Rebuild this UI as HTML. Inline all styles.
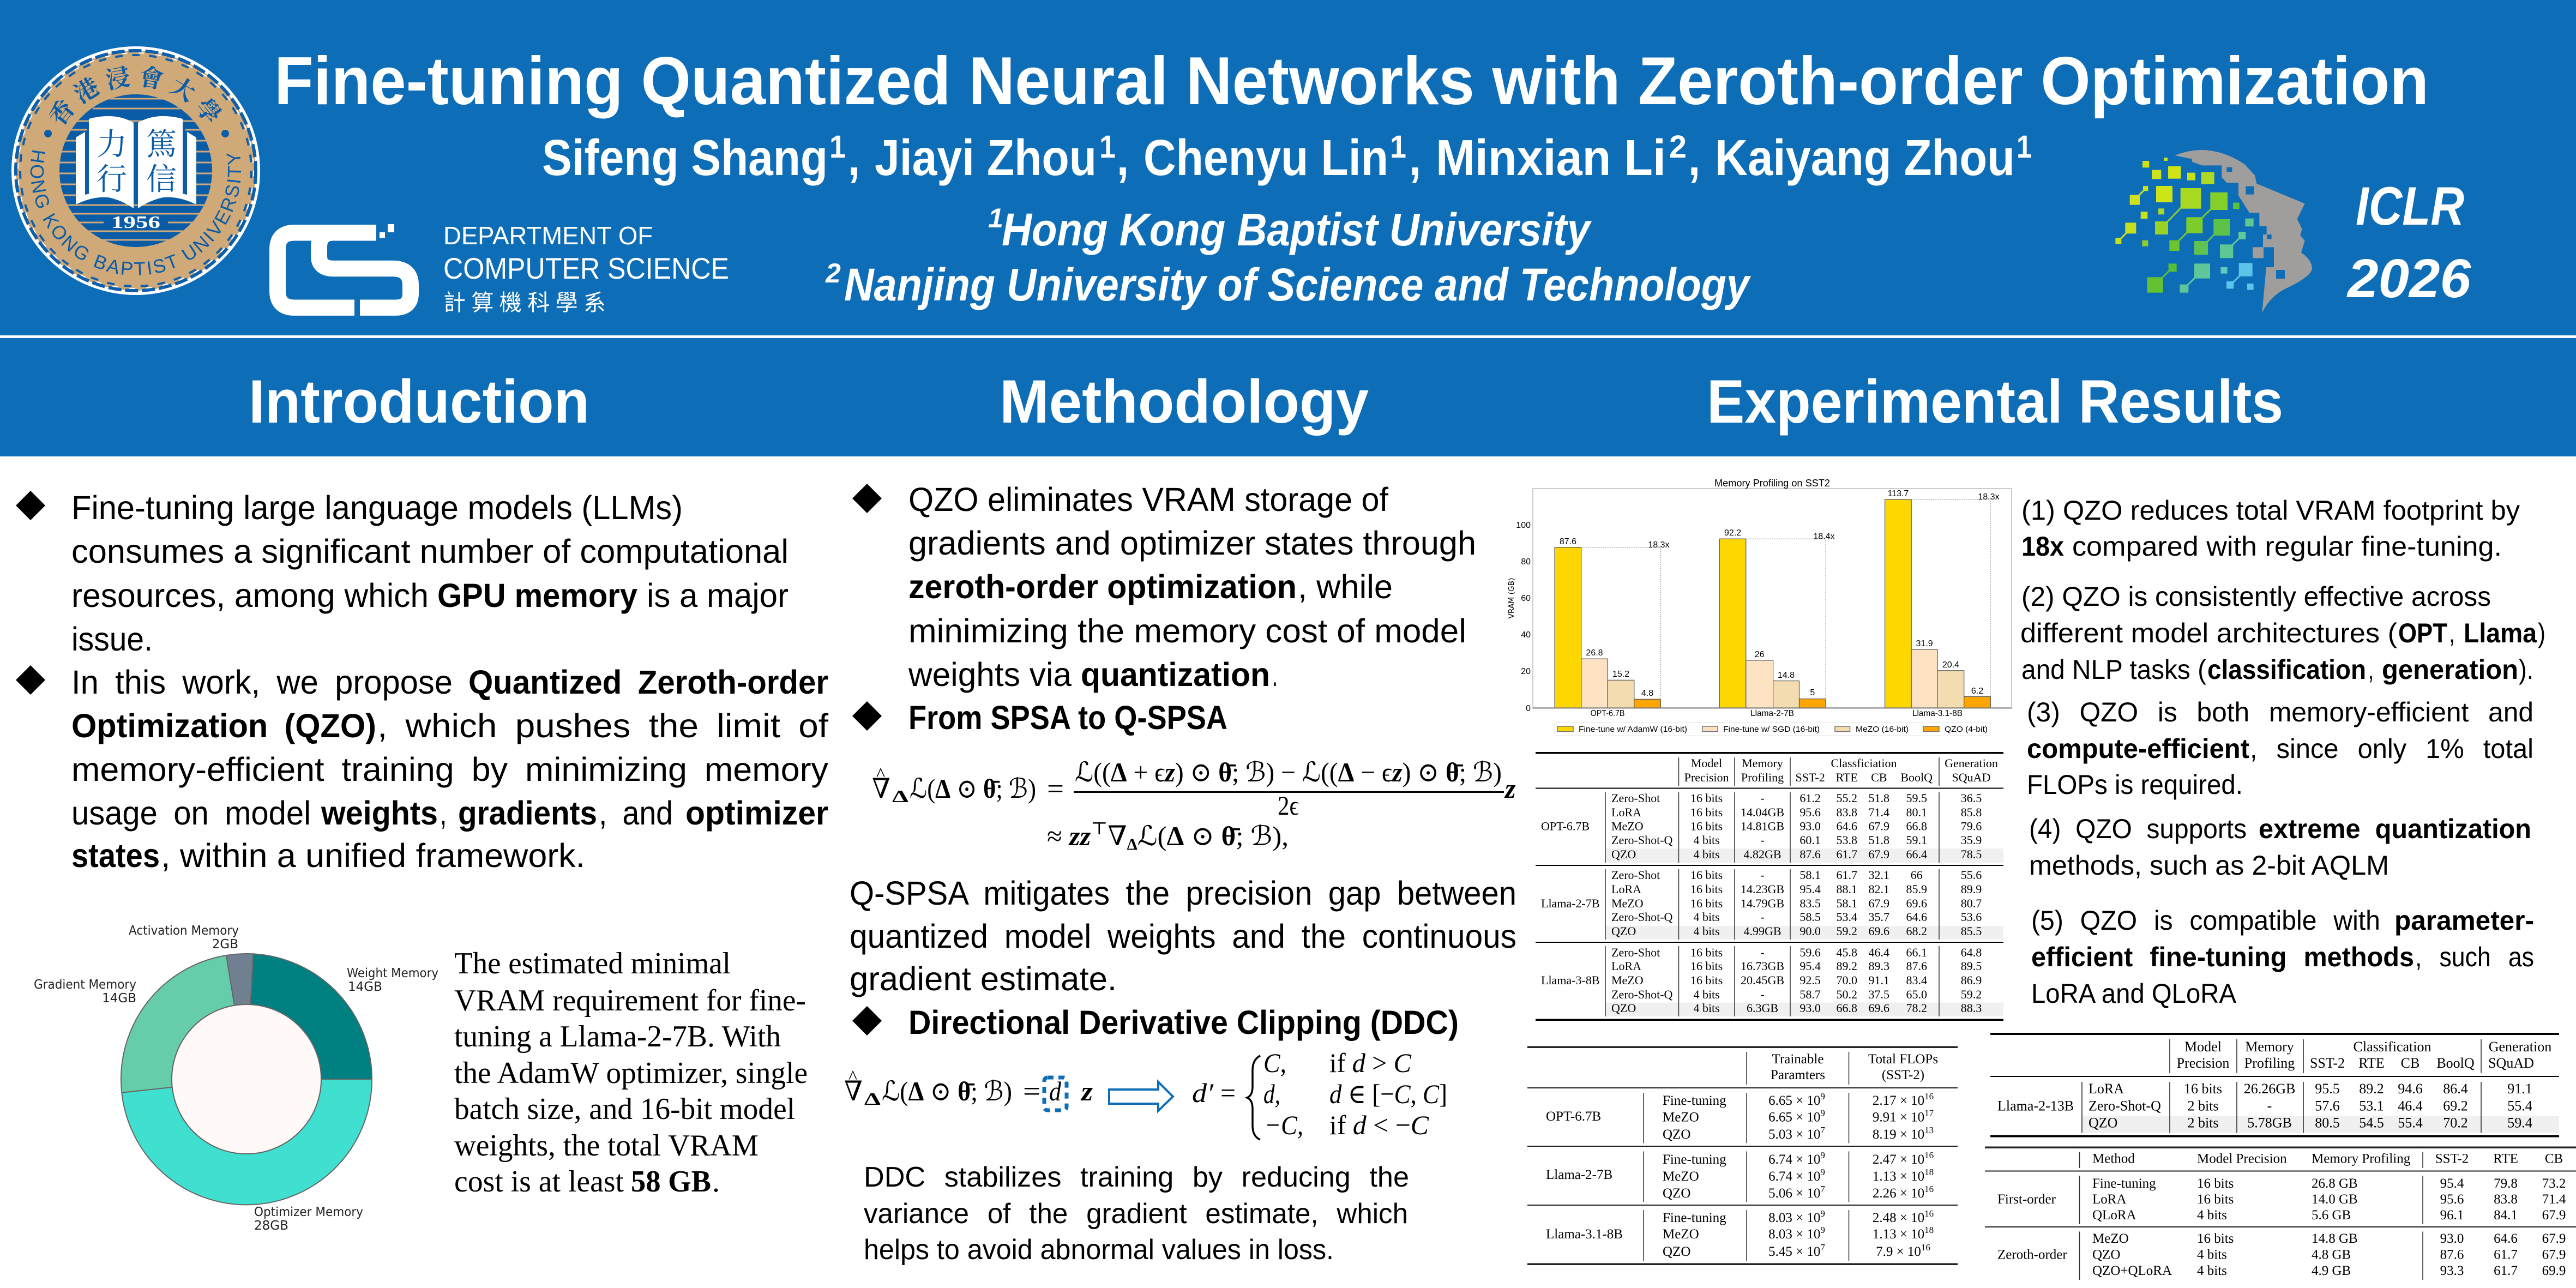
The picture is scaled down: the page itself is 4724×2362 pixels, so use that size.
<!DOCTYPE html>
<html lang="en"><head><meta charset="utf-8"><title>Fine-tuning Quantized Neural Networks with Zeroth-order Optimization</title>
<style>
html,body{margin:0;padding:0;background:#fff}
svg{display:block}
text{font-family:"Liberation Sans","Noto Sans CJK TC",sans-serif;fill:#000;white-space:pre}
.w{fill:#fff}
.b{font-weight:700}
.i{font-style:italic}
.se,.se text{font-family:"Liberation Serif","DejaVu Serif","Noto Serif CJK TC",serif}
.c{text-anchor:middle}
.r{text-anchor:end}
.j{word-spacing:14px}
.dj text{font-family:"DejaVu Sans",sans-serif;fill:#222}
.m{font-family:"Liberation Serif","DejaVu Serif",serif}
</style></head><body>
<svg xmlns="http://www.w3.org/2000/svg" width="4724" height="2362" viewBox="0 0 4724 2362">
<rect width="4724" height="2362" fill="#fff"/>
<rect width="4724" height="837" fill="#0e6db7"/>
<rect y="615" width="4724" height="5" fill="#fff"/>

<!-- HKBU seal -->
<g>
<circle cx="249" cy="313" r="228" fill="#fff"/>
<circle cx="249" cy="313" r="220" fill="#d0a978"/>
<circle cx="249" cy="313" r="220" fill="none" stroke="#0d5fab" stroke-width="6" stroke-dasharray="24 7"/>
<circle cx="249" cy="313" r="212" fill="none" stroke="#0d5fab" stroke-width="4" stroke-dasharray="14 17"/>
<circle cx="249" cy="313" r="216" fill="none" stroke="#fff" stroke-width="2" stroke-dasharray="10 21"/>
<clipPath id="cp"><circle cx="249" cy="313" r="140"/></clipPath>
<circle cx="249" cy="313" r="140" fill="#0b5ca6"/>
<g clip-path="url(#cp)" stroke="#d0a978" stroke-width="3">
<path d="M200 181H300M170 199H330M120 222H380M110 238H160M340 238H390M108 258H140M358 258H392M106 278H140M358 278H394M106 298H140M358 298H394M106 318H140M358 318H394M106 338H140M358 338H394M106 358H140M358 358H394M120 376H380M130 392H370M140 408H190M308 408H360M150 424H350M170 440H330M200 455H300"/>
</g>
<path d="M163 218Q210 205 245 225V382Q210 358 163 358Z" fill="#fff"/>
<path d="M139 252L156 242V357L139 375Z" fill="#fff"/>
<path d="M139 375Q200 345 245 382V372Q205 345 156 357Z" fill="#fff"/>
<path d="M335 218Q288 205 253 225V382Q288 358 335 358Z" fill="#fff"/>
<path d="M360 252L343 242V357L360 375Z" fill="#fff"/>
<path d="M360 375Q299 345 253 382V372Q293 345 343 357Z" fill="#fff"/>
<g class="se" font-size="56">
<text x="205" y="284" class="c" style="fill:#0b5ca6">力</text>
<text x="205" y="348" class="c" style="fill:#0b5ca6">行</text>
<text x="296" y="284" class="c" style="fill:#0b5ca6">篤</text>
<text x="296" y="348" class="c" style="fill:#0b5ca6">信</text>
</g>
<text class="se w b" x="204" y="418" font-size="32" textLength="90" lengthAdjust="spacingAndGlyphs">1956</text>
<path id="lowarc" d="M60 273A193 193 0 1 0 438 273" fill="none"/>
<path id="toparc" d="M113 234.5A157 157 0 0 1 385 234.5" fill="none"/>
<text font-size="35" style="fill:#0b5ca6"><textPath href="#lowarc" textLength="680" lengthAdjust="spacing">HONG KONG BAPTIST UNIVERSITY</textPath></text>
<text font-size="44" class="se" style="fill:#0b5ca6;font-family:'Noto Serif CJK TC','Noto Serif CJK SC',serif;font-weight:700"><textPath href="#toparc" textLength="325" lengthAdjust="spacing">香港浸會大學</textPath></text>
<circle cx="88" cy="245" r="7" fill="#0b5ca6"/><circle cx="413" cy="245" r="7" fill="#0b5ca6"/>
</g>

<!-- Header text -->
<text class="w b" x="503" y="191" font-size="124" textLength="3951" lengthAdjust="spacingAndGlyphs">Fine-tuning Quantized Neural Networks with Zeroth-order Optimization</text>
<g class="b" font-size="93" transform="translate(0 3)">
<text class="w b" x="994" y="318" textLength="524" lengthAdjust="spacingAndGlyphs">Sifeng Shang</text>
<text class="w" x="1521" y="286" font-size="58" textLength="30" lengthAdjust="spacingAndGlyphs">1</text>
<text class="w" x="1555" y="318" textLength="22" lengthAdjust="spacingAndGlyphs">,</text>
<text class="w" x="1604" y="318" textLength="407" lengthAdjust="spacingAndGlyphs">Jiayi Zhou</text>
<text class="w" x="2016" y="286" font-size="58" textLength="30" lengthAdjust="spacingAndGlyphs">1</text>
<text class="w" x="2048" y="318" textLength="22" lengthAdjust="spacingAndGlyphs">,</text>
<text class="w" x="2097" y="318" textLength="449" lengthAdjust="spacingAndGlyphs">Chenyu Lin</text>
<text class="w" x="2549" y="286" font-size="58" textLength="30" lengthAdjust="spacingAndGlyphs">1</text>
<text class="w" x="2584" y="318" textLength="22" lengthAdjust="spacingAndGlyphs">,</text>
<text class="w" x="2633" y="318" textLength="422" lengthAdjust="spacingAndGlyphs">Minxian Li</text>
<text class="w" x="3061" y="286" font-size="58" textLength="32" lengthAdjust="spacingAndGlyphs">2</text>
<text class="w" x="3096" y="318" textLength="22" lengthAdjust="spacingAndGlyphs">,</text>
<text class="w" x="3145" y="318" textLength="550" lengthAdjust="spacingAndGlyphs">Kaiyang Zhou</text>
<text class="w" x="3698" y="286" font-size="58" textLength="28" lengthAdjust="spacingAndGlyphs">1</text>
</g>
<text class="w b i" x="1812" y="417" font-size="50">1</text>
<text class="w b i" x="1837" y="450" font-size="84" textLength="1079" lengthAdjust="spacingAndGlyphs">Hong Kong Baptist University</text>
<text class="w b i" x="1514" y="518" font-size="50">2</text>
<text class="w b i" x="1548" y="551" font-size="84" textLength="1660" lengthAdjust="spacingAndGlyphs">Nanjing University of Science and Technology</text>

<!-- CS logo -->
<g transform="translate(0 2.500) scale(1 .982)">
<g fill="none" stroke="#fff" stroke-width="30">
<path d="M645 432H540Q509 432 509 463V541Q509 572 540 572H650"/>
<path d="M690 432H612Q585 432 585 459V476Q585 499 612 499H720Q753 499 753 530V545Q753 572 725 572H660"/>
</g>
<rect x="711" y="416" width="12" height="15" fill="#fff"/><rect x="696" y="431" width="10" height="11" fill="#fff"/>
</g>
<text class="w" x="813" y="448" font-size="46" textLength="384" lengthAdjust="spacingAndGlyphs">DEPARTMENT OF</text>
<text class="w" x="813" y="511" font-size="55" textLength="524" lengthAdjust="spacingAndGlyphs">COMPUTER SCIENCE</text>
<text class="w" x="813" y="569" font-size="41" textLength="298" lengthAdjust="spacing">計算機科學系</text>

<!-- ICLR logo -->
<g transform="translate(3840 260) scale(.33333)">
<path fill="#a09e9d" fill-rule="evenodd" d="M445 75Q520 45 600 45Q720 50 830 125L885 185L895 230L1160 340L1118 425L1145 480L1135 515L1160 545L1140 610Q1200 650 1200 700Q1190 745 1050 810Q970 850 925 940L948 690H990V580H930V510H950V465H910V390H855L795 295V225H730L703 195V130H595L540 110V95ZM730 140V165H760V140ZM835 245V290H880V245ZM952 510V535H977V510ZM1002 705V753H1050V705Z"/>
<rect x="873" y="580" width="60" height="60" fill="#a09e9d"/>
<g stroke-width="9" fill="none">
<path stroke="#c9e119" d="M285 257L222 320M205 475L135 545"/>
<path stroke="#8ccf2c" d="M530 310L370 475"/>
<path stroke="#72c92a" d="M690 325L552 460L440 570"/>
<path stroke="#5ec350" d="M700 470L590 585"/>
<path stroke="#5fc796" d="M815 515L730 600"/>
<path stroke="#57be3a" d="M432 692L335 787"/>
<path stroke="#5fc79a" d="M595 710L495 808"/>
<path stroke="#58c6ea" d="M835 705L750 788"/>
</g>
<rect x="267" y="105" width="37" height="37" fill="#cde216"/><rect x="385" y="87" width="20" height="18" fill="#cde216"/>
<rect x="318" y="155" width="52" height="50" fill="#cfe21e"/><rect x="408" y="135" width="70" height="68" fill="#cfe416"/>
<rect x="513" y="170" width="45" height="42" fill="#c6e01c"/><rect x="590" y="167" width="72" height="66" fill="#afd924"/>
<rect x="270" y="243" width="28" height="28" fill="#c9e119"/><rect x="197" y="292" width="55" height="55" fill="#cde21c"/>
<rect x="342" y="243" width="90" height="90" fill="#cde416"/><rect x="476" y="255" width="113" height="113" fill="#a9da22"/>
<rect x="640" y="278" width="95" height="97" fill="#84cf2a"/><rect x="765" y="335" width="35" height="35" fill="#5bc336"/>
<rect x="257" y="385" width="38" height="38" fill="#c9e119"/><rect x="354" y="367" width="33" height="33" fill="#a9d82a"/>
<rect x="172" y="445" width="60" height="60" fill="#c4e01e"/><rect x="118" y="528" width="33" height="33" fill="#c6e01c"/>
<rect x="265" y="542" width="33" height="33" fill="#8ecf2c"/><rect x="336" y="438" width="72" height="72" fill="#99d324"/>
<rect x="508" y="415" width="90" height="88" fill="#7ccd2c"/><rect x="658" y="426" width="90" height="90" fill="#5dc24a"/>
<rect x="832" y="422" width="46" height="44" fill="#5fc68e"/><rect x="415" y="542" width="55" height="58" fill="#6cc52c"/>
<rect x="552" y="546" width="75" height="75" fill="#5ec350"/><rect x="693" y="565" width="73" height="75" fill="#5fc796"/>
<rect x="795" y="495" width="40" height="42" fill="#5fc99a"/><rect x="292" y="745" width="88" height="85" fill="#62c232"/>
<rect x="410" y="670" width="45" height="45" fill="#57be3a"/><rect x="552" y="670" width="87" height="82" fill="#5fc79a"/>
<rect x="472" y="785" width="48" height="45" fill="#5cc69a"/><rect x="697" y="690" width="37" height="35" fill="#5fc6c0"/>
<rect x="797" y="667" width="75" height="73" fill="#5ac5e8"/><rect x="729" y="768" width="40" height="40" fill="#58c6ea"/>
<rect x="843" y="780" width="35" height="35" fill="#58c6ea"/>
</g>
<text class="w b i" x="4320" y="412" font-size="99" textLength="199" lengthAdjust="spacingAndGlyphs">ICLR</text>
<text class="w b i" x="4305" y="545" font-size="100" textLength="226" lengthAdjust="spacingAndGlyphs">2026</text>

<!-- Section headings -->
<text class="w b" x="456" y="775" font-size="112" textLength="625" lengthAdjust="spacingAndGlyphs">Introduction</text>
<text class="w b" x="1833" y="775" font-size="112" textLength="677" lengthAdjust="spacingAndGlyphs">Methodology</text>
<text class="w b" x="3130" y="775" font-size="112" textLength="1057" lengthAdjust="spacingAndGlyphs">Experimental Results</text>

<!-- Diamonds -->
<path d="M56 900L83 927L56 954L29 927ZM56 1220L83 1247L56 1274L29 1247ZM1590 887L1617 914L1590 941L1563 914ZM1590 1286L1617 1313L1590 1340L1563 1313ZM1590 1845L1617 1872L1590 1899L1563 1872Z"/>

<!-- Introduction -->
<g font-size="61">
<text x="131" y="952" textLength="1121" lengthAdjust="spacingAndGlyphs">Fine-tuning large language models (LLMs)</text>
<text x="131" y="1032" textLength="1315" lengthAdjust="spacingAndGlyphs">consumes a significant number of computational</text>
<text x="131" y="1113" textLength="655" lengthAdjust="spacingAndGlyphs">resources, among which</text>
<text class="b" x="802" y="1113" textLength="367" lengthAdjust="spacingAndGlyphs">GPU memory</text>
<text x="1186" y="1113" textLength="260" lengthAdjust="spacingAndGlyphs">is a major</text>
<text x="131" y="1193" textLength="149" lengthAdjust="spacingAndGlyphs">issue.</text>
<text class="j" x="131" y="1272" textLength="699" lengthAdjust="spacingAndGlyphs">In this work, we propose</text>
<text class="b j" x="859" y="1272" textLength="660" lengthAdjust="spacingAndGlyphs">Quantized Zeroth-order</text>
<text class="b j" x="131" y="1352" textLength="559" lengthAdjust="spacingAndGlyphs">Optimization (QZO)</text>
<text class="j" x="692" y="1352" textLength="827" lengthAdjust="spacingAndGlyphs">, which pushes the limit of</text>
<text class="j" x="131" y="1432" textLength="1388" lengthAdjust="spacingAndGlyphs">memory-efficient training by minimizing memory</text>
<text class="j" x="131" y="1512" textLength="439" lengthAdjust="spacingAndGlyphs">usage on model</text>
<text class="b" x="589" y="1512" textLength="214" lengthAdjust="spacingAndGlyphs">weights</text>
<text x="807" y="1512" textLength="12" lengthAdjust="spacingAndGlyphs">,</text>
<text class="b" x="840" y="1512" textLength="255" lengthAdjust="spacingAndGlyphs">gradients</text>
<text class="j" x="1098" y="1512" textLength="136" lengthAdjust="spacingAndGlyphs">, and</text>
<text class="b" x="1257" y="1512" textLength="262" lengthAdjust="spacingAndGlyphs">optimizer</text>
<text class="b" x="131" y="1590" textLength="162" lengthAdjust="spacingAndGlyphs">states</text>
<text x="295" y="1590" textLength="778" lengthAdjust="spacingAndGlyphs">, within a unified framework.</text>
</g>

<!-- Donut -->
<g stroke="#666" stroke-width="2" transform="translate(0 -9)">
<path fill="#008080" d="M682 1988A230 230 0 0 0 464.4 1758.3L459.4 1851.2A137 137 0 0 1 589 1988Z"/>
<path fill="#708090" d="M464.4 1758.3A230 230 0 0 0 414.8 1761L429.9 1852.8A137 137 0 0 1 459.4 1851.2Z"/>
<path fill="#66cdaa" d="M414.8 1761A230 230 0 0 0 223.3 2012.8L315.8 2002.8A137 137 0 0 1 429.9 1852.8Z"/>
<path fill="#40e0d0" d="M223.3 2012.8A230 230 0 0 0 682 1988L589 1988A137 137 0 0 1 315.8 2002.8Z"/>
<circle cx="452" cy="1988" r="137" fill="#fff9f8"/>
</g>
<g class="dj" font-size="23">
<text x="236" y="1714" textLength="202" lengthAdjust="spacingAndGlyphs">Activation Memory</text>
<text x="437" y="1739" class="r">2GB</text>
<text x="62" y="1813" textLength="188" lengthAdjust="spacingAndGlyphs">Gradient Memory</text>
<text x="250" y="1838" class="r">14GB</text>
<text x="636" y="1792" textLength="168" lengthAdjust="spacingAndGlyphs">Weight Memory</text>
<text x="638" y="1817">14GB</text>
<text x="466" y="2230" textLength="200" lengthAdjust="spacingAndGlyphs">Optimizer Memory</text>
<text x="466" y="2255">28GB</text>
</g>
<g class="se" font-size="56">
<text x="833" y="1785" textLength="507" lengthAdjust="spacingAndGlyphs">The estimated minimal</text>
<text x="833" y="1853" textLength="645" lengthAdjust="spacingAndGlyphs">VRAM requirement for fine-</text>
<text x="833" y="1919" textLength="599" lengthAdjust="spacingAndGlyphs">tuning a Llama-2-7B. With</text>
<text x="833" y="1986" textLength="648" lengthAdjust="spacingAndGlyphs">the AdamW optimizer, single</text>
<text x="833" y="2052" textLength="625" lengthAdjust="spacingAndGlyphs">batch size, and 16-bit model</text>
<text x="833" y="2119" textLength="558" lengthAdjust="spacingAndGlyphs">weights, the total VRAM</text>
<text x="833" y="2185" textLength="311" lengthAdjust="spacingAndGlyphs">cost is at least</text>
<text class="b" x="1157" y="2185" textLength="147" lengthAdjust="spacingAndGlyphs">58 GB</text>
<text x="1306" y="2185">.</text>
</g>

<!-- Methodology -->
<g font-size="61">
<text x="1666" y="937" textLength="880" lengthAdjust="spacingAndGlyphs">QZO eliminates VRAM storage of</text>
<text x="1666" y="1017" textLength="1041" lengthAdjust="spacingAndGlyphs">gradients and optimizer states through</text>
<text class="b" x="1666" y="1097" textLength="712" lengthAdjust="spacingAndGlyphs">zeroth-order optimization</text>
<text x="2380" y="1097" textLength="174" lengthAdjust="spacingAndGlyphs">, while</text>
<text x="1666" y="1178" textLength="1023" lengthAdjust="spacingAndGlyphs">minimizing the memory cost of model</text>
<text x="1666" y="1258" textLength="299" lengthAdjust="spacingAndGlyphs">weights via</text>
<text class="b" x="1982" y="1258" textLength="347" lengthAdjust="spacingAndGlyphs">quantization</text>
<text x="2333" y="1258" textLength="10" lengthAdjust="spacingAndGlyphs">.</text>
<text class="b" x="1666" y="1337" textLength="585" lengthAdjust="spacingAndGlyphs">From SPSA to Q-SPSA</text>
<text class="j" x="1558" y="1659" textLength="1223" lengthAdjust="spacingAndGlyphs">Q-SPSA mitigates the precision gap between</text>
<text class="j" x="1558" y="1738" textLength="1223" lengthAdjust="spacingAndGlyphs">quantized model weights and the continuous</text>
<text x="1558" y="1816" textLength="490" lengthAdjust="spacingAndGlyphs">gradient estimate.</text>
<text class="b" x="1666" y="1896" textLength="1009" lengthAdjust="spacingAndGlyphs">Directional Derivative Clipping (DDC)</text>
</g>
<g font-size="52">
<text class="j" x="1584" y="2176" textLength="1000" lengthAdjust="spacingAndGlyphs" style="word-spacing:20px">DDC stabilizes training by reducing the</text>
<text class="j" x="1584" y="2243" textLength="998" lengthAdjust="spacingAndGlyphs" style="word-spacing:20px">variance of the gradient estimate, which</text>
<text x="1584" y="2309" textLength="862" lengthAdjust="spacingAndGlyphs">helps to avoid abnormal values in loss.</text>
</g>

<!-- Equation 1 -->
<g class="se" font-size="50">
<text x="1599" y="1463" textLength="34" lengthAdjust="spacingAndGlyphs">∇</text>
<text x="1607" y="1431" font-size="34">^</text>
<text class="b" x="1636" y="1471" font-size="32" textLength="30" lengthAdjust="spacingAndGlyphs">Δ</text>
<text x="1668" y="1463" textLength="232" lengthAdjust="spacingAndGlyphs">ℒ(<tspan font-weight="700">Δ</tspan> ⊙ <tspan font-weight="700">θ̄</tspan>; ℬ)</text>
<text x="1920" y="1463" textLength="31" lengthAdjust="spacingAndGlyphs">=</text>
<text x="1971" y="1433" textLength="783" lengthAdjust="spacingAndGlyphs">ℒ((<tspan font-weight="700">Δ</tspan> + ϵ<tspan font-weight="700" font-style="italic">z</tspan>) ⊙ <tspan font-weight="700">θ̄</tspan>; ℬ) − ℒ((<tspan font-weight="700">Δ</tspan> − ϵ<tspan font-weight="700" font-style="italic">z</tspan>) ⊙ <tspan font-weight="700">θ̄</tspan>; ℬ)</text>
<rect x="1969" y="1451" width="789" height="3" fill="#000"/>
<text x="2343" y="1494" textLength="39" lengthAdjust="spacingAndGlyphs">2ϵ</text>
<text class="b i" x="2760" y="1463">z</text>
<text x="1920" y="1550" textLength="443" lengthAdjust="spacingAndGlyphs">≈ <tspan font-weight="700" font-style="italic">zz</tspan><tspan font-size="32" dy="-20">⊤</tspan><tspan dy="20">∇</tspan><tspan font-weight="700" font-size="30" dy="8">Δ</tspan><tspan dy="-8">ℒ(</tspan><tspan font-weight="700">Δ</tspan> ⊙ <tspan font-weight="700">θ̄</tspan>; ℬ),</text>
</g>

<!-- Equation 2 -->
<g transform="translate(0 5)">
<g class="se" font-size="50">
<text x="1548" y="2013" textLength="34" lengthAdjust="spacingAndGlyphs">∇</text>
<text x="1556" y="1981" font-size="34">^</text>
<text class="b" x="1585" y="2021" font-size="32" textLength="30" lengthAdjust="spacingAndGlyphs">Δ</text>
<text x="1617" y="2013" textLength="239" lengthAdjust="spacingAndGlyphs">ℒ(<tspan font-weight="700">Δ</tspan> ⊙ <tspan font-weight="700">θ̄</tspan>; ℬ)</text>
<text x="1876" y="2013" textLength="32" lengthAdjust="spacingAndGlyphs">=</text>
<text class="i" x="1924" y="2013" textLength="22" lengthAdjust="spacingAndGlyphs">d</text>
<text class="b i" x="1983" y="2013" textLength="21" lengthAdjust="spacingAndGlyphs">z</text>
<text class="i" x="2186" y="2016" textLength="39" lengthAdjust="spacingAndGlyphs">d′</text>
<text x="2238" y="2016" textLength="28" lengthAdjust="spacingAndGlyphs">=</text>
<text class="i" x="2317" y="1961" textLength="42" lengthAdjust="spacingAndGlyphs">C,</text>
<text x="2438" y="1961" textLength="150" lengthAdjust="spacingAndGlyphs">if <tspan font-style="italic">d</tspan> &gt; <tspan font-style="italic">C</tspan></text>
<text class="i" x="2317" y="2018" textLength="31" lengthAdjust="spacingAndGlyphs">d,</text>
<text x="2438" y="2018" textLength="216" lengthAdjust="spacingAndGlyphs"><tspan font-style="italic">d</tspan> ∈ [−<tspan font-style="italic">C</tspan>, <tspan font-style="italic">C</tspan>]</text>
<text class="i" x="2319" y="2075" textLength="71" lengthAdjust="spacingAndGlyphs">−C,</text>
<text x="2438" y="2075" textLength="182" lengthAdjust="spacingAndGlyphs">if <tspan font-style="italic">d</tspan> &lt; −<tspan font-style="italic">C</tspan></text>
</g>
<rect x="1915" y="1971" width="41" height="60" rx="6" fill="none" stroke="#0e6db7" stroke-width="7" stroke-dasharray="11 9"/>
<path d="M2034 1993H2124V1979L2151 2006L2124 2032V2019H2034Z" fill="#fff" stroke="#0e6db7" stroke-width="4"/>
<path d="M2311 1931Q2297 1938 2297 1958V1988Q2297 2004 2287 2008Q2297 2012 2297 2028V2059Q2297 2079 2311 2085" fill="none" stroke="#000" stroke-width="3.5"/>
</g>

<!-- Bar chart -->
<rect x="2811" y="896" width="878" height="402.400" fill="#fff" stroke="#bbb" stroke-width="1.500"/>
<g stroke="#555" stroke-width="1.200">
<g fill="#ffd700"><rect x="2851.100" y="1003.700" width="48.600" height="294.700"/><rect x="3153.300" y="988.200" width="48.500" height="310.200"/><rect x="3456.600" y="915.900" width="48.600" height="382.500"/></g>
<g fill="#fde2c4"><rect x="2899.700" y="1208.200" width="48.500" height="90.200"/><rect x="3201.800" y="1210.900" width="49.800" height="87.500"/><rect x="3505.200" y="1191.100" width="47.900" height="107.300"/></g>
<g fill="#f3dcb0"><rect x="2948.200" y="1247.300" width="48.600" height="51.100"/><rect x="3251.600" y="1248.600" width="47.900" height="49.800"/><rect x="3553.100" y="1229.800" width="48.600" height="68.600"/></g>
<g fill="#ffa500"><rect x="2996.800" y="1282.300" width="48.600" height="16.100"/><rect x="3299.500" y="1281.600" width="48.600" height="16.800"/><rect x="3601.700" y="1277.500" width="48.600" height="20.900"/></g>
</g>
<path d="M2899.700 1003.700H3045.400V1282.300M3201.800 988.200H3348.100V1281.600M3505.200 915.900H3650.300V1277.500" fill="none" stroke="#aaa" stroke-width="1.500" stroke-dasharray="2 2"/>
<path d="M2811 1298.400H3689" stroke="#777" stroke-width="2"/>
<text class="c" x="3250" y="892" font-size="18" textLength="212" lengthAdjust="spacingAndGlyphs">Memory Profiling on SST2</text>
<g font-size="16" style="fill:#111">
<text class="c" x="2875.400" y="998">87.6</text><text class="c" x="2924" y="1202">26.8</text><text class="c" x="2972.500" y="1241">15.2</text><text class="c" x="3021" y="1276">4.8</text>
<text class="c" x="3177.600" y="982">92.2</text><text class="c" x="3226.700" y="1205">26</text><text class="c" x="3275.500" y="1243">14.8</text><text class="c" x="3323.800" y="1275">5</text>
<text class="c" x="3480.900" y="910">113.7</text><text class="c" x="3529.100" y="1185">31.9</text><text class="c" x="3577.400" y="1224">20.4</text><text class="c" x="3626" y="1272">6.2</text>
<text class="c" x="3042" y="1004">18.3x</text><text class="c" x="3345" y="988.500">18.4x</text><text class="c" x="3647" y="916">18.3x</text>
<text class="r" x="2807" y="1304">0</text><text class="r" x="2807" y="1236">20</text><text class="r" x="2807" y="1169">40</text><text class="r" x="2807" y="1102">60</text><text class="r" x="2807" y="1035">80</text><text class="r" x="2807" y="968">100</text>
<text class="c" x="2948" y="1313" textLength="63" lengthAdjust="spacingAndGlyphs">OPT-6.7B</text><text class="c" x="3250" y="1313" textLength="80" lengthAdjust="spacingAndGlyphs">Llama-2-7B</text><text class="c" x="3553" y="1313" textLength="92" lengthAdjust="spacingAndGlyphs">Llama-3.1-8B</text>
</g>
<text class="c" transform="translate(2776 1097) rotate(-90)" font-size="13" style="font-family:'DejaVu Sans',sans-serif" textLength="75" lengthAdjust="spacingAndGlyphs">VRAM (GB)</text>
<rect x="2851" y="1325" width="799" height="24" rx="3" fill="#fff" stroke="#eee" stroke-width="1.500"/>
<g stroke="#777" stroke-width="1.500"><rect x="2856" y="1332" width="29" height="9.500" fill="#ffd700"/><rect x="3122" y="1332" width="28" height="9.500" fill="#fde2c4"/><rect x="3365" y="1332" width="27.500" height="9.500" fill="#f3dcb0"/><rect x="3527" y="1332" width="29" height="9.500" fill="#ffa500"/></g>
<g font-size="15">
<text x="2895" y="1342" textLength="199" lengthAdjust="spacingAndGlyphs">Fine-tune w/ AdamW (16-bit)</text>
<text x="3160" y="1342" textLength="177" lengthAdjust="spacingAndGlyphs">Fine-tune w/ SGD (16-bit)</text>
<text x="3403" y="1342" textLength="97" lengthAdjust="spacingAndGlyphs">MeZO (16-bit)</text>
<text x="3566" y="1342" textLength="79" lengthAdjust="spacingAndGlyphs">QZO (4-bit)</text>
</g>

<!-- Table 1 -->
<g fill="#f0f0f0"><rect x="2945" y="1556" width="729" height="26"/><rect x="2945" y="1698" width="729" height="25"/><rect x="2945" y="1838.500" width="729" height="25.500"/></g>
<g fill="#000"><rect x="2816" y="1379" width="858" height="3.500"/><rect x="2816" y="1444.500" width="858" height="2"/><rect x="2816" y="1586" width="858" height="2"/><rect x="2816" y="1727" width="858" height="2"/><rect x="2816" y="1868.500" width="858" height="3.500"/></g>
<path d="M3078.500 1389V1441M3181 1389V1441M3283 1389V1441M3556 1389V1441M2944 1453V1582M3078.500 1453V1582M3181 1453V1582M3283 1453V1582M3556 1453V1582M2944 1594V1723M3078.500 1594V1723M3181 1594V1723M3283 1594V1723M3556 1594V1723M2944 1735V1864M3078.500 1735V1864M3181 1735V1864M3283 1735V1864M3556 1735V1864" stroke="#333" stroke-width="1.500"/>
<g class="se" font-size="22">
<text class="c" y="1407"><tspan x="3129.600">Model</tspan><tspan x="3232">Memory</tspan><tspan x="3418">Classficiation</tspan><tspan x="3615">Generation</tspan></text>
<text class="c" y="1433"><tspan x="3129.600">Precision</tspan><tspan x="3232">Profiling</tspan><tspan x="3319.600">SST-2</tspan><tspan x="3386.700">RTE</tspan><tspan x="3445.800">CB</tspan><tspan x="3514.700">BoolQ</tspan><tspan x="3615">SQuAD</tspan></text>
<text x="2826" y="1522.500">OPT-6.7B</text><text x="2826" y="1664">Llama-2-7B</text><text x="2826" y="1805">Llama-3-8B</text>
<text x="2955" y="1471">Zero-Shot</text><text x="2955" y="1497">LoRA</text><text x="2955" y="1522.500">MeZO</text><text x="2955" y="1548">Zero-Shot-Q</text><text x="2955" y="1574">QZO</text>
<text x="2955" y="1612">Zero-Shot</text><text x="2955" y="1638">LoRA</text><text x="2955" y="1664">MeZO</text><text x="2955" y="1689">Zero-Shot-Q</text><text x="2955" y="1715">QZO</text>
<text x="2955" y="1754">Zero-Shot</text><text x="2955" y="1779">LoRA</text><text x="2955" y="1805">MeZO</text><text x="2955" y="1831">Zero-Shot-Q</text><text x="2955" y="1856">QZO</text>
<text class="c" y="1471"><tspan x="3129.600">16 bits</tspan><tspan x="3232">-</tspan><tspan x="3319.600">61.2</tspan><tspan x="3386.700">55.2</tspan><tspan x="3445.800">51.8</tspan><tspan x="3514.700">59.5</tspan><tspan x="3615">36.5</tspan></text>
<text class="c" y="1497"><tspan x="3129.600">16 bits</tspan><tspan x="3232">14.04GB</tspan><tspan x="3319.600">95.6</tspan><tspan x="3386.700">83.8</tspan><tspan x="3445.800">71.4</tspan><tspan x="3514.700">80.1</tspan><tspan x="3615">85.8</tspan></text>
<text class="c" y="1522.500"><tspan x="3129.600">16 bits</tspan><tspan x="3232">14.81GB</tspan><tspan x="3319.600">93.0</tspan><tspan x="3386.700">64.6</tspan><tspan x="3445.800">67.9</tspan><tspan x="3514.700">66.8</tspan><tspan x="3615">79.6</tspan></text>
<text class="c" y="1548"><tspan x="3129.600">4 bits</tspan><tspan x="3232">-</tspan><tspan x="3319.600">60.1</tspan><tspan x="3386.700">53.8</tspan><tspan x="3445.800">51.8</tspan><tspan x="3514.700">59.1</tspan><tspan x="3615">35.9</tspan></text>
<text class="c" y="1574"><tspan x="3129.600">4 bits</tspan><tspan x="3232">4.82GB</tspan><tspan x="3319.600">87.6</tspan><tspan x="3386.700">61.7</tspan><tspan x="3445.800">67.9</tspan><tspan x="3514.700">66.4</tspan><tspan x="3615">78.5</tspan></text>
<text class="c" y="1612"><tspan x="3129.600">16 bits</tspan><tspan x="3232">-</tspan><tspan x="3319.600">58.1</tspan><tspan x="3386.700">61.7</tspan><tspan x="3445.800">32.1</tspan><tspan x="3514.700">66</tspan><tspan x="3615">55.6</tspan></text>
<text class="c" y="1638"><tspan x="3129.600">16 bits</tspan><tspan x="3232">14.23GB</tspan><tspan x="3319.600">95.4</tspan><tspan x="3386.700">88.1</tspan><tspan x="3445.800">82.1</tspan><tspan x="3514.700">85.9</tspan><tspan x="3615">89.9</tspan></text>
<text class="c" y="1664"><tspan x="3129.600">16 bits</tspan><tspan x="3232">14.79GB</tspan><tspan x="3319.600">83.5</tspan><tspan x="3386.700">58.1</tspan><tspan x="3445.800">67.9</tspan><tspan x="3514.700">69.6</tspan><tspan x="3615">80.7</tspan></text>
<text class="c" y="1689"><tspan x="3129.600">4 bits</tspan><tspan x="3232">-</tspan><tspan x="3319.600">58.5</tspan><tspan x="3386.700">53.4</tspan><tspan x="3445.800">35.7</tspan><tspan x="3514.700">64.6</tspan><tspan x="3615">53.6</tspan></text>
<text class="c" y="1715"><tspan x="3129.600">4 bits</tspan><tspan x="3232">4.99GB</tspan><tspan x="3319.600">90.0</tspan><tspan x="3386.700">59.2</tspan><tspan x="3445.800">69.6</tspan><tspan x="3514.700">68.2</tspan><tspan x="3615">85.5</tspan></text>
<text class="c" y="1754"><tspan x="3129.600">16 bits</tspan><tspan x="3232">-</tspan><tspan x="3319.600">59.6</tspan><tspan x="3386.700">45.8</tspan><tspan x="3445.800">46.4</tspan><tspan x="3514.700">66.1</tspan><tspan x="3615">64.8</tspan></text>
<text class="c" y="1779"><tspan x="3129.600">16 bits</tspan><tspan x="3232">16.73GB</tspan><tspan x="3319.600">95.4</tspan><tspan x="3386.700">89.2</tspan><tspan x="3445.800">89.3</tspan><tspan x="3514.700">87.6</tspan><tspan x="3615">89.5</tspan></text>
<text class="c" y="1805"><tspan x="3129.600">16 bits</tspan><tspan x="3232">20.45GB</tspan><tspan x="3319.600">92.5</tspan><tspan x="3386.700">70.0</tspan><tspan x="3445.800">91.1</tspan><tspan x="3514.700">83.4</tspan><tspan x="3615">86.9</tspan></text>
<text class="c" y="1831"><tspan x="3129.600">4 bits</tspan><tspan x="3232">-</tspan><tspan x="3319.600">58.7</tspan><tspan x="3386.700">50.2</tspan><tspan x="3445.800">37.5</tspan><tspan x="3514.700">65.0</tspan><tspan x="3615">59.2</tspan></text>
<text class="c" y="1856"><tspan x="3129.600">4 bits</tspan><tspan x="3232">6.3GB</tspan><tspan x="3319.600">93.0</tspan><tspan x="3386.700">66.8</tspan><tspan x="3445.800">69.6</tspan><tspan x="3514.700">78.2</tspan><tspan x="3615">88.3</tspan></text>
</g>

<!-- Table 2 -->
<g fill="#222"><rect x="2801" y="1918.500" width="789" height="3.500"/><rect x="2801" y="1994" width="789" height="2"/><rect x="2801" y="2101" width="789" height="2"/><rect x="2801" y="2209" width="789" height="2"/><rect x="2801" y="2316.500" width="789" height="3.500"/></g>
<path d="M3203 1929V1989M3390.500 1929V1989M3014 2004V2096.500M3203 2004V2096.500M3390.500 2004V2096.500M3014 2111.500V2204M3203 2111.500V2204M3390.500 2111.500V2204M3014 2219V2312M3203 2219V2312M3390.500 2219V2312" stroke="#333" stroke-width="1.500"/>
<g class="se" font-size="25">
<text class="c" y="1950"><tspan x="3297">Trainable</tspan><tspan x="3490">Total FLOPs</tspan></text>
<text class="c" y="1979"><tspan x="3297">Paramters</tspan><tspan x="3490">(SST-2)</tspan></text>
<text x="2835" y="2055">OPT-6.7B</text><text x="2835" y="2162">Llama-2-7B</text><text x="2835" y="2271">Llama-3.1-8B</text>
<text x="3049" y="2026">Fine-tuning</text><text x="3049" y="2056.500">MeZO</text><text x="3049" y="2088">QZO</text>
<text x="3049" y="2134">Fine-tuning</text><text x="3049" y="2165">MeZO</text><text x="3049" y="2196">QZO</text>
<text x="3049" y="2241">Fine-tuning</text><text x="3049" y="2271">MeZO</text><text x="3049" y="2303">QZO</text>
<text class="c" x="3295" y="2026">6.65 × 10<tspan font-size="17" dy="-10">9</tspan></text><text class="c" x="3490" y="2026">2.17 × 10<tspan font-size="17" dy="-10">16</tspan></text>
<text class="c" x="3295" y="2056.500">6.65 × 10<tspan font-size="17" dy="-10">9</tspan></text><text class="c" x="3490" y="2056.500">9.91 × 10<tspan font-size="17" dy="-10">17</tspan></text>
<text class="c" x="3295" y="2088">5.03 × 10<tspan font-size="17" dy="-10">7</tspan></text><text class="c" x="3490" y="2088">8.19 × 10<tspan font-size="17" dy="-10">13</tspan></text>
<text class="c" x="3295" y="2134">6.74 × 10<tspan font-size="17" dy="-10">9</tspan></text><text class="c" x="3490" y="2134">2.47 × 10<tspan font-size="17" dy="-10">16</tspan></text>
<text class="c" x="3295" y="2165">6.74 × 10<tspan font-size="17" dy="-10">9</tspan></text><text class="c" x="3490" y="2165">1.13 × 10<tspan font-size="17" dy="-10">18</tspan></text>
<text class="c" x="3295" y="2196">5.06 × 10<tspan font-size="17" dy="-10">7</tspan></text><text class="c" x="3490" y="2196">2.26 × 10<tspan font-size="17" dy="-10">16</tspan></text>
<text class="c" x="3295" y="2241">8.03 × 10<tspan font-size="17" dy="-10">9</tspan></text><text class="c" x="3490" y="2241">2.48 × 10<tspan font-size="17" dy="-10">16</tspan></text>
<text class="c" x="3295" y="2271">8.03 × 10<tspan font-size="17" dy="-10">9</tspan></text><text class="c" x="3490" y="2271">1.13 × 10<tspan font-size="17" dy="-10">18</tspan></text>
<text class="c" x="3295" y="2303">5.45 × 10<tspan font-size="17" dy="-10">7</tspan></text><text class="c" x="3490" y="2303">7.9 × 10<tspan font-size="17" dy="-10">16</tspan></text>
</g>

<!-- Table 3 -->
<rect x="3818" y="2046" width="875" height="31.500" fill="#f0f0f0"/>
<g fill="#000"><rect x="3650" y="1894" width="1043" height="4"/><rect x="3650" y="1973" width="1043" height="2"/><rect x="3650" y="2081.500" width="1043" height="4"/></g>
<path d="M3979 1906V1968M4102 1906V1968M4224 1906V1968M4550 1906V1968M3818 1984V2077.500M3979 1984V2077.500M4102 1984V2077.500M4224 1984V2077.500M4550 1984V2077.500" stroke="#222" stroke-width="1.500"/>
<g class="se" font-size="26">
<text class="c" y="1928"><tspan x="4040">Model</tspan><tspan x="4162">Memory</tspan><tspan x="4387">Classification</tspan><tspan x="4621.500">Generation</tspan></text>
<text class="c" y="1958"><tspan x="4040">Precision</tspan><tspan x="4162">Profiling</tspan><tspan x="4268">SST-2</tspan><tspan x="4349">RTE</tspan><tspan x="4420">CB</tspan><tspan x="4503">BoolQ</tspan><tspan x="4605">SQuAD</tspan></text>
<text x="3663" y="2036.500">Llama-2-13B</text>
<text x="3830" y="2005">LoRA</text><text x="3830" y="2036.500">Zero-Shot-Q</text><text x="3830" y="2067.500">QZO</text>
<text class="c" y="2005"><tspan x="4040">16 bits</tspan><tspan x="4162">26.26GB</tspan><tspan x="4268">95.5</tspan><tspan x="4349">89.2</tspan><tspan x="4420">94.6</tspan><tspan x="4503">86.4</tspan><tspan x="4621">91.1</tspan></text>
<text class="c" y="2036.500"><tspan x="4040">2 bits</tspan><tspan x="4162">-</tspan><tspan x="4268">57.6</tspan><tspan x="4349">53.1</tspan><tspan x="4420">46.4</tspan><tspan x="4503">69.2</tspan><tspan x="4621">55.4</tspan></text>
<text class="c" y="2067.500"><tspan x="4040">2 bits</tspan><tspan x="4162">5.78GB</tspan><tspan x="4268">80.5</tspan><tspan x="4349">54.5</tspan><tspan x="4420">55.4</tspan><tspan x="4503">70.2</tspan><tspan x="4621">59.4</tspan></text>
</g>

<!-- Table 4 -->
<g fill="#222"><rect x="3640" y="2102.500" width="1084" height="3.500"/><rect x="3640" y="2146.500" width="1084" height="2"/><rect x="3640" y="2249" width="1084" height="2"/></g>
<path d="M3813.500 2112.500V2142M4443 2112.500V2142M3813.500 2156V2245M4443 2156V2245M3813.500 2258.500V2347M4443 2258.500V2347" stroke="#333" stroke-width="1.500"/>
<g class="se" font-size="25">
<text y="2132.500"><tspan x="3837">Method</tspan><tspan x="4029">Model Precision</tspan><tspan x="4239">Memory Profiling</tspan></text>
<text class="c" y="2132.500"><tspan x="4496.500">SST-2</tspan><tspan x="4595">RTE</tspan><tspan x="4683.500">CB</tspan></text>
<text x="3663" y="2207">First-order</text><text x="3663" y="2308.600">Zeroth-order</text>
<text y="2178"><tspan x="3837">Fine-tuning</tspan><tspan x="4029">16 bits</tspan><tspan x="4239">26.8 GB</tspan></text>
<text y="2207"><tspan x="3837">LoRA</tspan><tspan x="4029">16 bits</tspan><tspan x="4239">14.0 GB</tspan></text>
<text y="2236"><tspan x="3837">QLoRA</tspan><tspan x="4029">4 bits</tspan><tspan x="4239">5.6 GB</tspan></text>
<text y="2279"><tspan x="3837">MeZO</tspan><tspan x="4029">16 bits</tspan><tspan x="4239">14.8 GB</tspan></text>
<text y="2308.600"><tspan x="3837">QZO</tspan><tspan x="4029">4 bits</tspan><tspan x="4239">4.8 GB</tspan></text>
<text y="2338"><tspan x="3837">QZO+QLoRA</tspan><tspan x="4029">4 bits</tspan><tspan x="4239">4.9 GB</tspan></text>
<text class="c" y="2178"><tspan x="4496.500">95.4</tspan><tspan x="4595">79.8</tspan><tspan x="4683.500">73.2</tspan></text>
<text class="c" y="2207"><tspan x="4496.500">95.6</tspan><tspan x="4595">83.8</tspan><tspan x="4683.500">71.4</tspan></text>
<text class="c" y="2236"><tspan x="4496.500">96.1</tspan><tspan x="4595">84.1</tspan><tspan x="4683.500">67.9</tspan></text>
<text class="c" y="2279"><tspan x="4496.500">93.0</tspan><tspan x="4595">64.6</tspan><tspan x="4683.500">67.9</tspan></text>
<text class="c" y="2308.600"><tspan x="4496.500">87.6</tspan><tspan x="4595">61.7</tspan><tspan x="4683.500">67.9</tspan></text>
<text class="c" y="2338"><tspan x="4496.500">93.3</tspan><tspan x="4595">61.7</tspan><tspan x="4683.500">69.9</tspan></text>
</g>

<!-- Right text -->
<g font-size="50">
<text x="3707" y="953" textLength="914" lengthAdjust="spacingAndGlyphs">(1) QZO reduces total VRAM footprint by</text>
<text class="b" x="3707" y="1019" textLength="78" lengthAdjust="spacingAndGlyphs">18x</text>
<text x="3800" y="1019" textLength="788" lengthAdjust="spacingAndGlyphs">compared with regular fine-tuning.</text>
<text x="3707" y="1111" textLength="861" lengthAdjust="spacingAndGlyphs">(2) QZO is consistently effective across</text>
<text x="3705" y="1178" textLength="691" lengthAdjust="spacingAndGlyphs">different model architectures (</text>
<text class="b" x="4398" y="1178" textLength="90" lengthAdjust="spacingAndGlyphs">OPT</text>
<text x="4491" y="1178" textLength="11" lengthAdjust="spacingAndGlyphs">,</text>
<text class="b" x="4518" y="1178" textLength="134" lengthAdjust="spacingAndGlyphs">Llama</text>
<text x="4654" y="1178" textLength="14" lengthAdjust="spacingAndGlyphs">)</text>
<text x="3707" y="1245" textLength="339" lengthAdjust="spacingAndGlyphs">and NLP tasks (</text>
<text class="b" x="4048" y="1245" textLength="291" lengthAdjust="spacingAndGlyphs">classification</text>
<text x="4343" y="1245" textLength="10" lengthAdjust="spacingAndGlyphs">,</text>
<text class="b" x="4368" y="1245" textLength="250" lengthAdjust="spacingAndGlyphs">generation</text>
<text x="4619" y="1245" textLength="27" lengthAdjust="spacingAndGlyphs">).</text>
<text class="j" x="3717" y="1323" textLength="929" lengthAdjust="spacingAndGlyphs" style="word-spacing:22px">(3) QZO is both memory-efficient and</text>
<text class="b" x="3717" y="1390" textLength="408" lengthAdjust="spacingAndGlyphs">compute-efficient</text>
<text class="j" x="4126" y="1390" textLength="520" lengthAdjust="spacingAndGlyphs" style="word-spacing:22px">, since only 1% total</text>
<text x="3717" y="1456" textLength="396" lengthAdjust="spacingAndGlyphs">FLOPs is required.</text>
<text class="j" x="3721" y="1537" textLength="399" lengthAdjust="spacingAndGlyphs">(4) QZO supports</text>
<text class="b j" x="4142" y="1537" textLength="500" lengthAdjust="spacingAndGlyphs">extreme quantization</text>
<text x="3721" y="1604" textLength="660" lengthAdjust="spacingAndGlyphs">methods, such as 2-bit AQLM</text>
<text class="j" x="3725" y="1705" textLength="640" lengthAdjust="spacingAndGlyphs" style="word-spacing:18px">(5) QZO is compatible with</text>
<text class="b" x="4391" y="1705" textLength="256" lengthAdjust="spacingAndGlyphs">parameter-</text>
<text class="b j" x="3725" y="1772" textLength="702" lengthAdjust="spacingAndGlyphs" style="word-spacing:18px">efficient fine-tuning methods</text>
<text class="j" x="4429" y="1772" textLength="218" lengthAdjust="spacingAndGlyphs" style="word-spacing:22px">, such as</text>
<text x="3725" y="1839" textLength="376" lengthAdjust="spacingAndGlyphs">LoRA and QLoRA</text>
</g>
</svg>
</body></html>
